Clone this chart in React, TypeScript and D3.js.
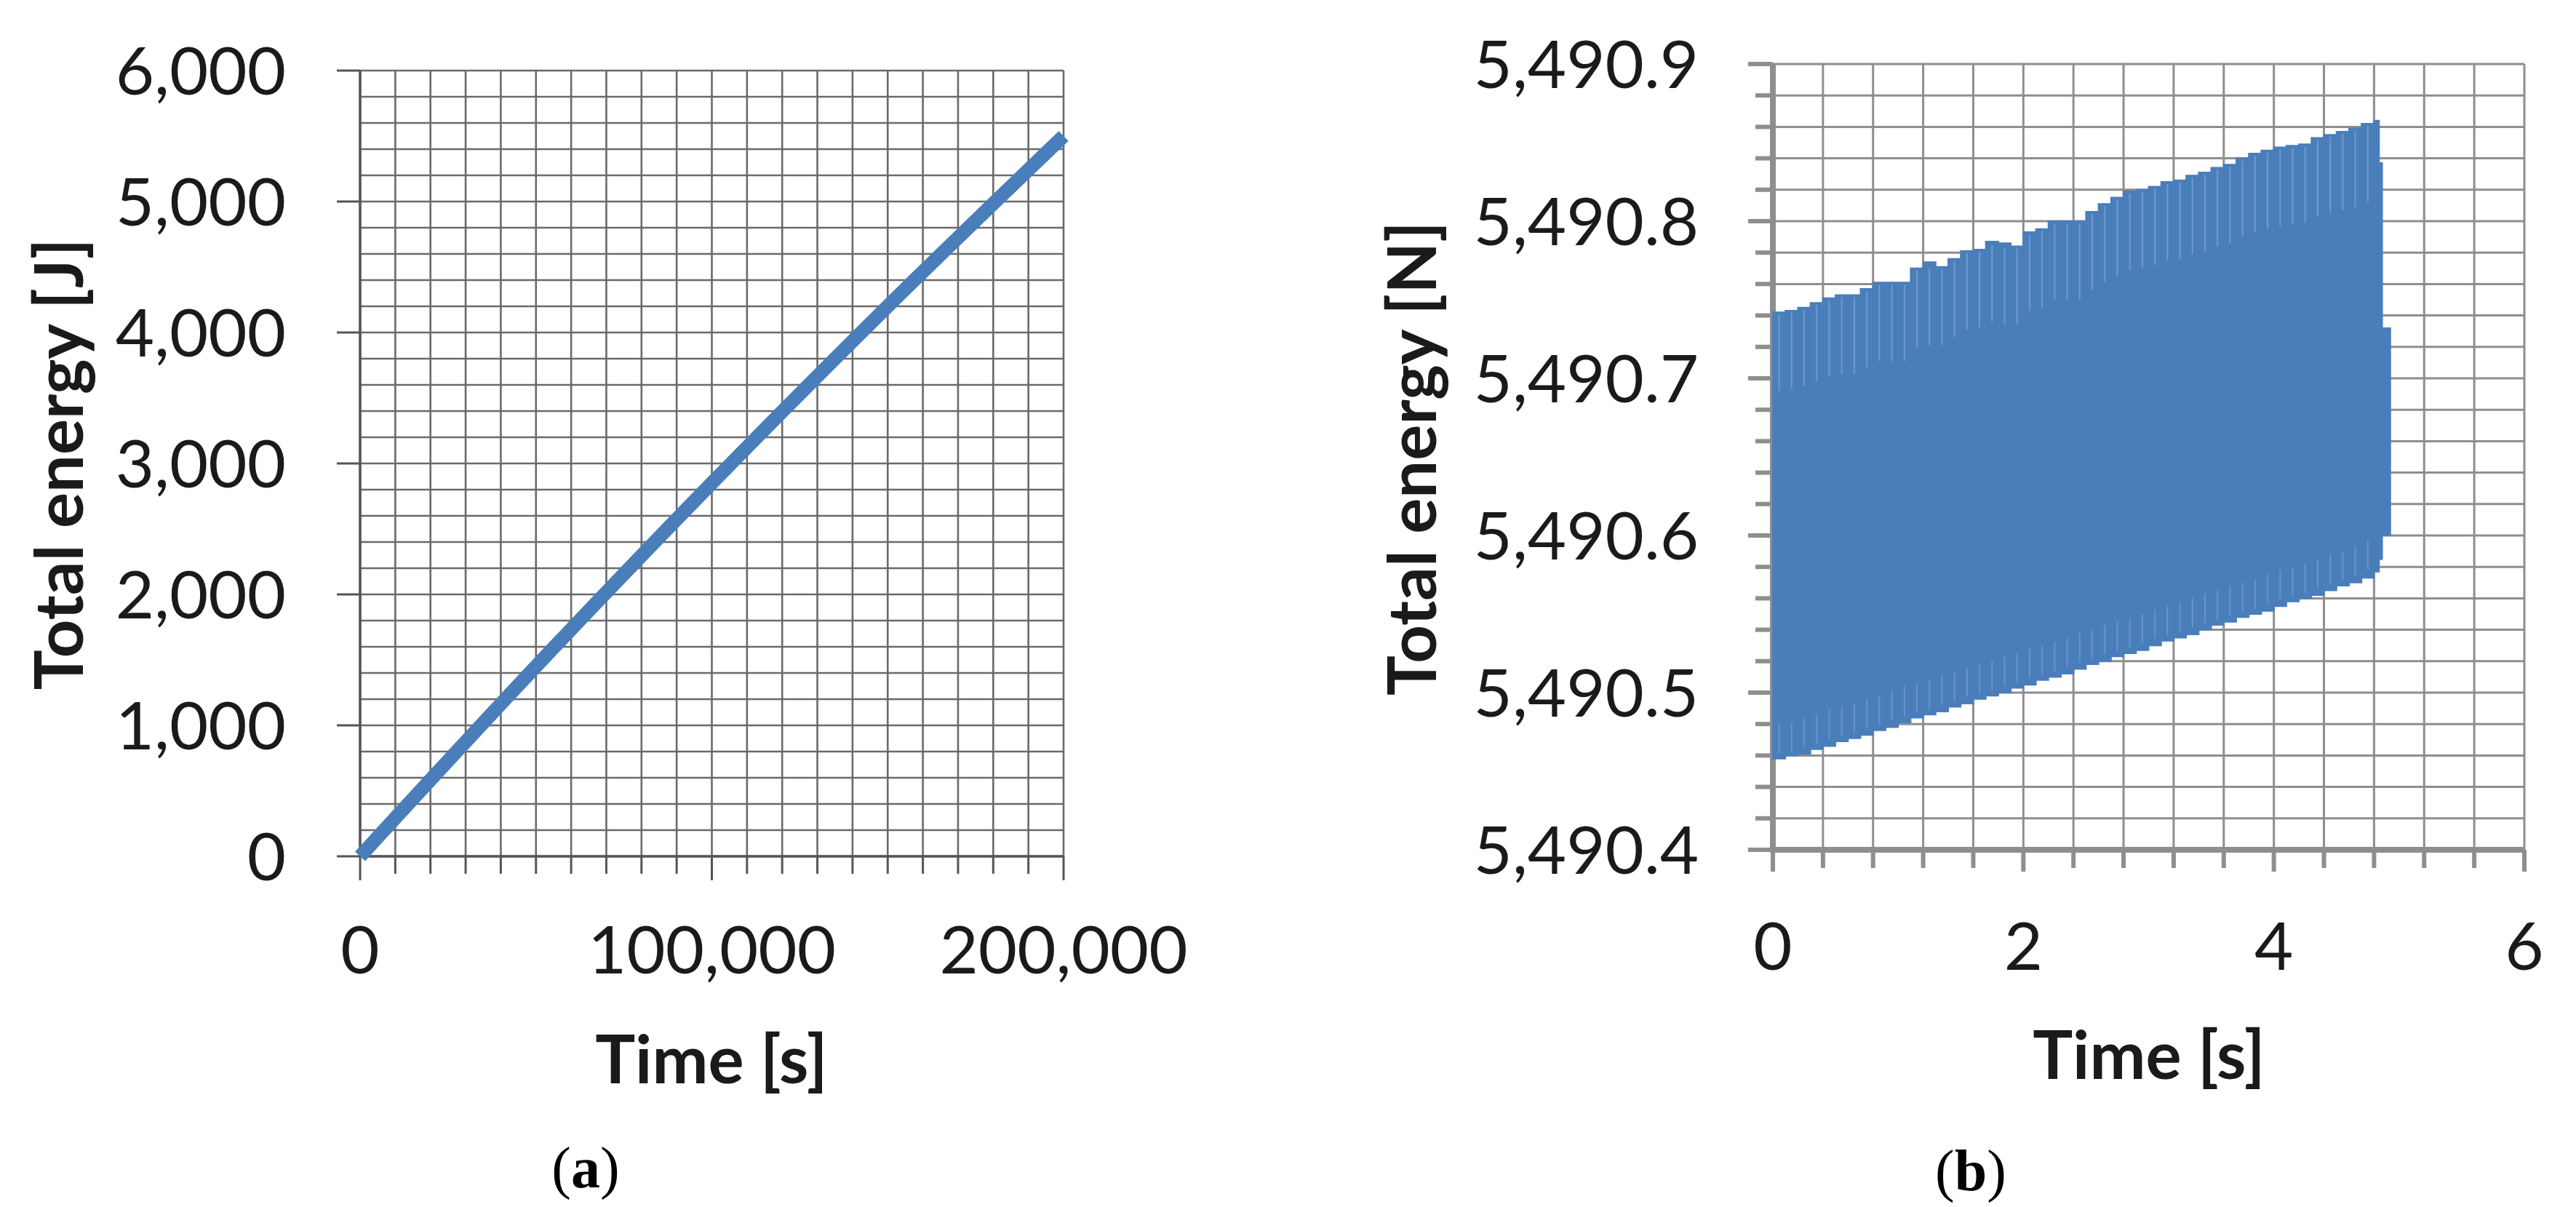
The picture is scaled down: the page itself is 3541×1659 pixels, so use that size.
import React from "react";
import * as d3 from "d3";

// ---------- Panel (a) data ----------
const aTime = [0, 50000, 100000, 150000, 200000];
const aEnergy = [0, 1450, 2850, 4200, 5500];
const aYTicks = [0, 1000, 2000, 3000, 4000, 5000, 6000];
const aXTicks = [0, 100000, 200000];

// ---------- Panel (b) data (envelope of the dense oscillation) ----------
const bTime = [
  0.0, 0.1, 0.2, 0.3, 0.4, 0.5, 0.6, 0.7, 0.8, 0.9,
  1.0, 1.1, 1.2, 1.3, 1.4, 1.5, 1.6, 1.7, 1.8, 1.9,
  2.0, 2.1, 2.2, 2.3, 2.4, 2.5, 2.6, 2.7, 2.8, 2.9,
  3.0, 3.1, 3.2, 3.3, 3.4, 3.5, 3.6, 3.7, 3.8, 3.9,
  4.0, 4.1, 4.2, 4.3, 4.4, 4.5, 4.6, 4.7, 4.8, 4.84, 4.865, 4.93,
];
const bUpper = [
  5490.742, 5490.743, 5490.745, 5490.748, 5490.751, 5490.753, 5490.753, 5490.757, 5490.761, 5490.761,
  5490.761, 5490.770, 5490.774, 5490.771, 5490.776, 5490.781, 5490.782, 5490.787, 5490.786, 5490.784,
  5490.793, 5490.795, 5490.800, 5490.800, 5490.800, 5490.806, 5490.811, 5490.815, 5490.819, 5490.820,
  5490.822, 5490.825, 5490.826, 5490.829, 5490.831, 5490.834, 5490.836, 5490.840, 5490.843, 5490.845,
  5490.847, 5490.848, 5490.849, 5490.853, 5490.855, 5490.857, 5490.859, 5490.862, 5490.864, 5490.837, 5490.732, 5490.732,
];
const bLower = [
  5490.458, 5490.460, 5490.461, 5490.464, 5490.466, 5490.469, 5490.471, 5490.473, 5490.476, 5490.478,
  5490.481, 5490.484, 5490.486, 5490.488, 5490.491, 5490.493, 5490.496, 5490.498, 5490.500, 5490.503,
  5490.505, 5490.508, 5490.510, 5490.512, 5490.515, 5490.518, 5490.520, 5490.523, 5490.525, 5490.527,
  5490.530, 5490.533, 5490.535, 5490.537, 5490.540, 5490.543, 5490.545, 5490.548, 5490.550, 5490.552,
  5490.555, 5490.558, 5490.560, 5490.562, 5490.565, 5490.568, 5490.570, 5490.573, 5490.577, 5490.585, 5490.600, 5490.600,
];
const bYTicks = [5490.4, 5490.5, 5490.6, 5490.7, 5490.8, 5490.9];
const bXTicks = [0, 2, 4, 6];

const FONT = "Lato, 'Open Sans', sans-serif";
const SERIF = "'Liberation Serif', 'DejaVu Serif', serif";

export default function App() {
  const xA = d3.scaleLinear().domain([0, 200000]).range([495, 1462]);
  const yA = d3.scaleLinear().domain([0, 6000]).range([1177, 97]);
  const xB = d3.scaleLinear().domain([0, 6]).range([2437, 3470]);
  const yB = d3.scaleLinear().domain([5490.4, 5490.9]).range([1168, 88]);

  const fmtA = d3.format(",");
  const fmtB = d3.format(",.1f");

  const aMinorY = d3.range(0, 6001, 200);
  const aMinorX = d3.range(0, 200001, 10000);
  const bMinorY = d3.range(0, 26).map((i) => 5490.4 + i * 0.02);
  const bMinorX = d3.range(0, 16).map((i) => i * 0.4);

  const lineA = d3
    .line<number>()
    .x((_, i) => xA(aTime[i]))
    .y((d) => yA(d))
    .curve(d3.curveMonotoneX);

  const areaB = d3
    .area<number>()
    .x((_, i) => xB(bTime[i]))
    .y0((_, i) => yB(bLower[i]))
    .y1((d) => yB(d))
    .curve(d3.curveStepAfter);

  const gridA = "#6a6a6a";
  const axisA = "#555555";
  const gridB = "#8e8e8e";
  const blue = "#4a7ebb";

  const streaks = bTime.slice(0, 48).map((t, i) => {
    const tm = (t + bTime[i + 1]) / 2;
    const top = Math.min(bUpper[i], bUpper[i + 1]);
    const bot = Math.max(bLower[i], bLower[i + 1]);
    return { x: xB(tm), y1: yB(top) + 3, y2: yB(top - 0.05), yb1: yB(bot) - 3, yb2: yB(bot + 0.02) };
  });

  return (
    <svg width={3541} height={1659} style={{ position: "absolute", left: 0, top: 0, background: "#fff" }}>
      <rect x={0} y={0} width={3541} height={1659} fill="#fff" />

      {/* ================= Panel (a) ================= */}
      <g>
        {aMinorY.map((v) => (
          <line key={"ay" + v} x1={xA(0)} x2={xA(200000)} y1={yA(v)} y2={yA(v)} stroke={gridA} strokeWidth={2.6} />
        ))}
        {aMinorX.map((v) => (
          <line key={"ax" + v} x1={xA(v)} x2={xA(v)} y1={yA(0)} y2={yA(6000)} stroke={gridA} strokeWidth={2.6} />
        ))}
        {aYTicks.map((v) => (
          <line key={"aty" + v} x1={xA(0) - 32} x2={xA(0)} y1={yA(v)} y2={yA(v)} stroke={axisA} strokeWidth={3} />
        ))}
        {aMinorX.map((v) => (
          <line key={"atx" + v} x1={xA(v)} x2={xA(v)} y1={yA(0)} y2={yA(0) + (v % 100000 === 0 ? 33 : 24)} stroke={axisA} strokeWidth={3} />
        ))}
        <line x1={xA(0)} x2={xA(0)} y1={yA(0)} y2={yA(6000)} stroke={axisA} strokeWidth={3.5} />
        <line x1={xA(0)} x2={xA(200000)} y1={yA(0)} y2={yA(0)} stroke={axisA} strokeWidth={3.5} />
        <path d={lineA(aEnergy) || ""} fill="none" stroke={blue} strokeWidth={19} strokeLinecap="butt" strokeLinejoin="round" />
        {aYTicks.map((v) => (
          <text key={"aly" + v} x={393} y={yA(v)} dy="0.36em" textAnchor="end" fontFamily={FONT} fontSize={92} fill="#1a1a1a">
            {fmtA(v)}
          </text>
        ))}
        {aXTicks.map((v) => (
          <text key={"alx" + v} x={xA(v)} y={1338} textAnchor="middle" fontFamily={FONT} fontSize={92} fill="#1a1a1a">
            {fmtA(v)}
          </text>
        ))}
        <text x={978} y={1489} textAnchor="middle" fontFamily={FONT} fontWeight="bold" fontSize={92} fill="#1a1a1a">
          Time [s]
        </text>
        <text transform="translate(114,638) rotate(-90)" textAnchor="middle" fontFamily={FONT} fontWeight="bold" fontSize={92} fill="#1a1a1a">
          Total energy [J]
        </text>
        <text x={805} y={1632} textAnchor="middle" fontFamily={SERIF} fontSize={80} fill="#000">
          (<tspan fontWeight="bold">a</tspan>)
        </text>
      </g>

      {/* ================= Panel (b) ================= */}
      <g>
        {bMinorY.map((v, i) => (
          <line key={"by" + i} x1={xB(0)} x2={xB(6)} y1={yB(v)} y2={yB(v)} stroke={gridB} strokeWidth={3} />
        ))}
        {bMinorX.map((v, i) => (
          <line key={"bx" + i} x1={xB(v)} x2={xB(v)} y1={yB(5490.4)} y2={yB(5490.9)} stroke={gridB} strokeWidth={3} />
        ))}
        {bMinorY.map((v, i) => (
          <line key={"bty" + i} x1={xB(0) - (i % 5 === 0 ? 34 : 24)} x2={xB(0)} y1={yB(v)} y2={yB(v)} stroke={gridB} strokeWidth={6} />
        ))}
        {bMinorX.map((v, i) => (
          <line key={"btx" + i} x1={xB(v)} x2={xB(v)} y1={yB(5490.4)} y2={yB(5490.4) + (i % 5 === 0 ? 30 : 25)} stroke={gridB} strokeWidth={6} />
        ))}
        <line x1={xB(0)} x2={xB(0)} y1={yB(5490.4) + 4} y2={yB(5490.9)} stroke={gridB} strokeWidth={8} />
        <line x1={xB(0) - 4} x2={xB(6)} y1={yB(5490.4)} y2={yB(5490.4)} stroke={gridB} strokeWidth={8} />
        <path d={areaB(bUpper) || ""} fill={blue} stroke={blue} strokeWidth={2} />
        {streaks.map((s, i) => (
          <g key={"st" + i}>
            <line x1={s.x} x2={s.x} y1={s.y1} y2={s.y2} stroke="#8fb0dd" strokeWidth={2} opacity={0.55} />
            <line x1={s.x} x2={s.x} y1={s.yb1} y2={s.yb2} stroke="#8fb0dd" strokeWidth={2} opacity={0.45} />
          </g>
        ))}
        {bYTicks.map((v) => (
          <text key={"bly" + v} x={2335} y={yB(v)} dy="0.36em" textAnchor="end" fontFamily={FONT} fontSize={92} fill="#1a1a1a">
            {fmtB(v)}
          </text>
        ))}
        {bXTicks.map((v) => (
          <text key={"blx" + v} x={xB(v)} y={1333} textAnchor="middle" fontFamily={FONT} fontSize={92} fill="#1a1a1a">
            {v}
          </text>
        ))}
        <text x={2954} y={1483} textAnchor="middle" fontFamily={FONT} fontWeight="bold" fontSize={92} fill="#1a1a1a">
          Time [s]
        </text>
        <text transform="translate(1974,630) rotate(-90)" textAnchor="middle" fontFamily={FONT} fontWeight="bold" fontSize={92} fill="#1a1a1a">
          Total energy [N]
        </text>
        <text x={2709} y={1636} textAnchor="middle" fontFamily={SERIF} fontSize={80} fill="#000">
          (<tspan fontWeight="bold">b</tspan>)
        </text>
      </g>
    </svg>
  );
}
